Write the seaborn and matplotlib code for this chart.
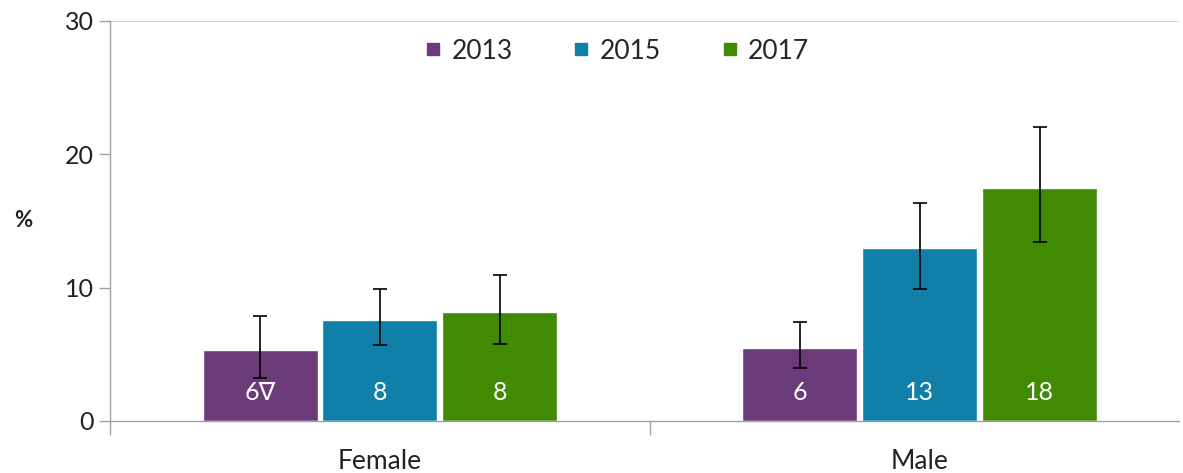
import numpy as np
import pandas as pd
import matplotlib
matplotlib.use("Agg")
import matplotlib.pyplot as plt
import seaborn as sns
from matplotlib.lines import Line2D

# values
sexes = ["Female", "Male"]
years = ["2013", "2015", "2017"]
values = {
    "2013": [5.3, 5.5],
    "2015": [7.6, 12.95],
    "2017": [8.2, 17.5],
}
ci_low = {
    "2013": [3.2, 3.95],
    "2015": [5.7, 9.9],
    "2017": [5.8, 13.45],
}
ci_high = {
    "2013": [7.9, 7.4],
    "2015": [9.9, 16.35],
    "2017": [10.95, 22.05],
}
bar_labels = {
    "2013": ["6\u2207", "6"],
    "2015": ["8", "13"],
    "2017": ["8", "18"],
}
colors = ["#6B3A78", "#1080A8", "#418A04"]

rows = []
for yr in years:
    for i, s in enumerate(sexes):
        rows.append({"sex": s, "year": yr, "pct": values[yr][i]})
df = pd.DataFrame(rows)

sns.set_style("white")
plt.rcParams["font.family"] = ["Lato", "DejaVu Sans"]

fig = plt.figure(figsize=(11.83, 4.73), dpi=100)
ax = fig.add_axes([0.093, 0.11, 0.904, 0.846])

sns.barplot(data=df, x="sex", y="pct", hue="year", order=sexes, hue_order=years,
            palette=colors, saturation=1, width=0.666, gap=0.04, errorbar=None,
            edgecolor="white", linewidth=1, legend=False, ax=ax)

# error bars and in-bar labels
for yr, cont in zip(years, ax.containers):
    for i, bar in enumerate(cont):
        xc = bar.get_x() + bar.get_width() / 2
        v = values[yr][i]
        ax.errorbar(xc, v, yerr=[[v - ci_low[yr][i]], [ci_high[yr][i] - v]],
                    fmt="none", ecolor="black", elinewidth=1.2, capsize=5, capthick=1.2)
        ax.text(xc, 2.1, bar_labels[yr][i], ha="center", va="center",
                color="white", fontsize=18)

ax.set_ylim(0, 30)
ax.set_xlim(-0.5, 1.481)
ax.set_yticks([0, 10, 20, 30])
ax.tick_params(axis="y", length=8, width=1, color="#A0A0A0", direction="out",
               labelsize=18, labelcolor="#222222", left=True)
ax.set_xticks([0, 1])
ax.set_xticklabels(sexes)
ax.tick_params(axis="x", which="major", length=0, labelsize=19, pad=20, labelcolor="#222222")
ax.set_xticks([-0.5, 0.5], minor=True)
ax.tick_params(axis="x", which="minor", length=10, width=1, color="#A0A0A0",
               direction="out", bottom=True)

for side in ["left", "bottom"]:
    ax.spines[side].set_color("#A0A0A0")
    ax.spines[side].set_linewidth(1)
ax.spines["right"].set_visible(False)
ax.spines["top"].set_visible(False)
ax.axhline(30, color="#C8C8C8", linewidth=1.2)

ax.set_xlabel("")
ax.set_ylabel("%", rotation=0, fontsize=16, fontweight="bold", labelpad=30,
              va="center", color="#222222")

handles = [Line2D([], [], marker="s", linestyle="none", markersize=8,
                  markerfacecolor=c, markeredgecolor=c) for c in colors]
ax.legend(handles, years, loc="upper center", bbox_to_anchor=(0.473, 1.015), ncol=3,
          frameon=False, fontsize=19, handletextpad=0.3, columnspacing=2.2,
          handlelength=0.8)

fig.savefig("out.png", dpi=100)
